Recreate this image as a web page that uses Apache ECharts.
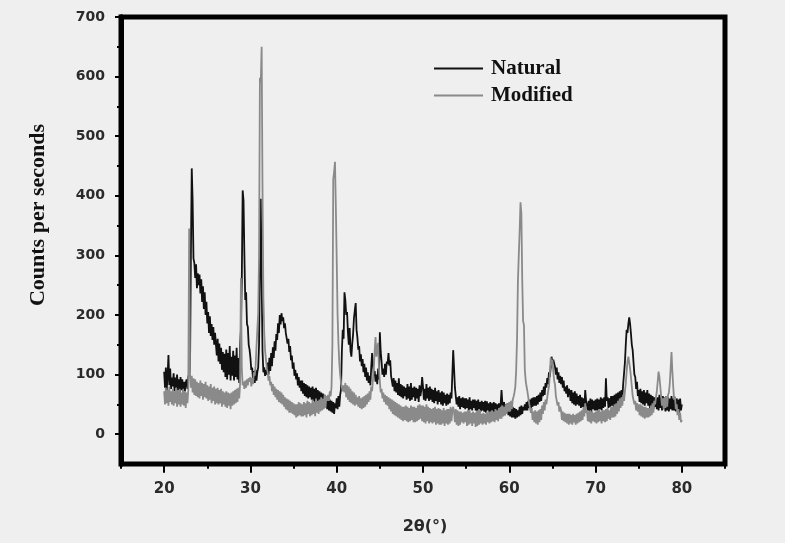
<!DOCTYPE html>
<html>
<head>
<meta charset="utf-8">
<script src="https://cdn.jsdelivr.net/npm/echarts@6/dist/echarts.min.js"></script>
<style>
html,body{margin:0;padding:0;background:#efefef;}
#chart{width:785px;height:543px;}
</style>
</head>
<body>
<div id="chart"></div>
<script>
// 2θ sampling: 20.0 .. 80.0 in 0.1° steps
const thetaStart = 20.0;
const thetaStep = 0.1;

const naturalCounts = [
105,78,112,74,98,133,82,110,76,95,
80,102,72,95,78,100,74,92,70,96,
74,92,70,88,72,86,92,76,96,102,
110,300,446,392,295,287,262,285,245,270,
250,268,236,260,222,248,210,238,200,222,
186,205,170,198,165,185,158,180,150,170,
168,132,160,122,152,118,145,108,138,104,
135,96,142,92,136,100,148,90,130,98,
140,90,132,96,145,92,128,86,150,175,
260,409,392,300,225,238,185,180,150,142,
128,108,112,92,106,86,108,90,104,112,
150,280,395,260,140,104,112,98,108,100,
120,100,128,106,136,114,146,128,156,140,
168,158,186,170,200,184,203,190,196,178,
186,170,172,152,160,138,148,124,132,110,
120,98,108,92,102,82,96,78,90,72,
90,68,86,64,84,62,82,60,80,62,
78,58,80,56,76,54,78,52,74,56,
72,50,70,48,68,46,66,44,64,42,
60,40,58,38,56,36,54,34,52,44,
60,42,64,46,66,75,140,175,160,238,
225,200,205,171,150,178,140,130,152,168,
195,208,220,175,162,142,148,122,134,114,
126,104,118,96,112,90,104,86,98,82,
112,136,118,98,106,88,100,84,110,92,
171,138,122,100,110,96,118,100,122,118,
136,115,124,98,100,80,94,72,90,70,
86,66,94,64,84,62,82,60,80,64,
78,58,84,60,80,56,86,58,78,62,
80,56,78,60,76,54,82,64,74,96,
80,58,76,56,84,60,78,56,80,58,
76,54,74,52,78,56,72,50,74,54,
70,50,72,48,70,52,66,48,68,50,
66,52,70,60,100,141,110,78,64,50,
62,46,64,42,60,46,62,44,60,42,
60,44,58,40,62,42,56,40,58,44,
58,40,56,38,58,42,54,38,56,40,
54,38,56,36,55,40,52,36,54,38,
52,36,54,34,52,38,50,34,52,36,
50,74,52,34,54,32,50,34,52,32,
48,30,50,28,46,28,44,26,42,28,
40,30,46,32,48,34,46,40,50,40,
54,40,56,44,58,42,60,46,62,48,
62,48,64,50,66,54,70,56,74,64,
80,66,86,78,94,84,104,96,112,130,
118,125,128,113,100,112,92,104,86,98,
84,96,78,90,72,80,68,82,62,76,
72,56,74,52,70,50,72,48,68,50,
64,48,66,44,62,46,60,42,74,56,
58,40,56,38,60,36,58,42,56,40,
58,40,60,38,58,42,62,40,60,44,
62,46,94,56,62,44,60,46,64,48,
64,46,66,48,68,50,70,52,72,56,
74,62,84,102,120,150,175,170,185,196,
185,169,150,141,120,100,96,76,88,64,
74,54,76,52,72,50,74,48,70,52,
74,48,68,44,66,46,64,42,62,46,
60,42,62,40,66,44,62,40,64,42,
62,38,64,40,62,38,60,42,64,40,
60,40,62,38,60,42,58,36,60,40,
50
];

const modifiedCounts = [
72,50,78,52,74,48,80,54,72,50,
76,48,72,52,78,46,74,50,76,46,
70,50,76,48,72,44,70,52,75,345,
100,78,98,70,94,66,92,64,88,62,
86,60,90,64,86,58,84,62,88,60,
82,56,80,58,84,52,78,56,80,50,
76,52,78,50,74,52,76,46,72,50,
70,46,72,44,70,48,68,42,70,48,
72,50,74,52,76,54,78,60,84,262,
110,82,88,76,90,78,92,82,94,88,
96,80,94,84,104,98,115,146,175,203,
300,598,590,650,412,230,170,140,125,110,
104,90,98,82,88,72,84,66,80,62,
76,58,74,54,72,52,70,50,66,46,
62,42,60,40,58,36,56,36,54,34,
52,32,50,28,50,30,54,32,52,30,
50,30,54,32,52,28,56,34,54,30,
52,32,58,34,54,30,60,36,56,34,
58,38,62,40,60,42,66,44,64,56,
66,56,72,64,80,150,428,440,457,380,
292,200,153,120,100,86,88,72,82,70,
86,62,82,58,80,54,76,52,72,50,
70,48,66,50,62,46,64,44,60,42,
62,44,64,46,66,50,68,54,72,58,
80,72,92,110,140,163,130,145,153,110,
88,70,76,60,70,54,66,50,64,48,
62,42,60,38,58,34,56,32,54,30,
52,28,50,26,48,24,46,22,46,24,
48,22,46,20,44,22,48,24,46,20,
46,20,44,22,48,24,50,26,48,22,
48,20,46,18,50,22,46,18,44,20,
42,18,44,20,46,16,42,18,44,16,
42,16,40,18,44,14,40,18,42,16,
42,18,46,22,40,46,36,20,42,16,
40,14,38,16,38,20,36,18,38,20,
38,14,40,16,40,18,36,14,38,18,
36,12,38,14,40,16,40,18,34,16,
36,18,34,16,38,20,36,18,38,20,
40,22,38,20,42,24,40,22,44,26,
46,26,48,30,46,32,50,34,52,38,
54,38,56,42,58,63,70,80,108,160,
255,300,340,389,370,260,190,183,108,90,
80,72,69,52,50,36,44,24,38,20,
40,18,38,16,40,20,42,24,48,34,
54,40,58,50,62,72,80,100,128,115,
125,105,90,83,64,66,48,54,38,46,
40,24,38,22,36,20,34,18,34,16,
34,18,32,16,34,20,32,16,34,18,
36,20,38,22,40,24,46,30,52,36,
40,22,38,20,40,18,38,22,36,20,
38,18,40,20,42,22,38,18,40,22,
40,20,42,22,44,26,40,24,46,28,
46,28,50,30,52,34,56,38,60,44,
62,48,66,56,72,85,105,122,130,120,
110,96,80,64,66,50,56,40,52,38,
50,32,50,30,48,28,46,26,46,28,
44,28,44,30,48,32,52,36,56,50,
62,72,88,105,96,80,63,48,60,42,
62,44,64,46,66,70,85,110,138,105,
80,58,63,42,50,32,42,24,36,20,
24
];

const seriesNames = ['Natural', 'Modified'];
const xMajorTicks = [20, 30, 40, 50, 60, 70, 80];
const xMinorTicks = [15, 25, 35, 45, 55, 65, 75, 85];
const yMajorTicks = [0, 100, 200, 300, 400, 500, 600, 700];
const yMinorTicks = [50, 150, 250, 350, 450, 550, 650];
const xTitle = '2θ(°)';
const yTitle = 'Counts per seconds';

function toPairs(arr) {
  return arr.map((v, i) => [Number((thetaStart + i * thetaStep).toFixed(1)), v]);
}

const chart = echarts.init(document.getElementById('chart'), null, {renderer: 'canvas'});

const labelFont = {fontFamily: 'DejaVu Sans', fontWeight: 'bold', color: '#2a2a2a'};
const naturalColor = '#111111';
const modifiedColor = '#8a8a8a';
const frameLine = {show: true, onZero: false, lineStyle: {color: '#000', width: 5}};

function xAxisBase() {
  return {type: 'value', min: 15, max: 85, gridIndex: 0, position: 'bottom', splitLine: {show: false}};
}

const option = {
  backgroundColor: '#efefef',
  animation: false,
  grid: {left: 121, right: 60, top: 17, bottom: 79, show: true, borderColor: '#000', borderWidth: 5, backgroundColor: 'transparent'},
  legend: {
    orient: 'vertical', left: 429, top: 53, padding: 5, itemWidth: 49, itemHeight: 2, itemGap: 6,
    data: [
      {name: seriesNames[0], icon: 'rect', itemStyle: {color: naturalColor}},
      {name: seriesNames[1], icon: 'rect', itemStyle: {color: modifiedColor}}
    ],
    textStyle: {fontFamily: 'Liberation Serif', fontWeight: 'bold', fontSize: 21, color: '#111', padding: [0, 0, 0, 3]}
  },
  xAxis: [
    Object.assign(xAxisBase(), {
      axisLine: {show: false, onZero: true, onZeroAxisIndex: 2},
      axisTick: {show: true, length: 10, lineStyle: {color: '#000', width: 2}, customValues: xMajorTicks},
      axisLabel: {show: false}
    }),
    Object.assign(xAxisBase(), {
      axisLine: {show: false, onZero: true, onZeroAxisIndex: 2},
      axisTick: {show: true, length: 6, lineStyle: {color: '#000', width: 2}, customValues: xMinorTicks},
      axisLabel: {show: false}
    }),
    Object.assign(xAxisBase(), {
      axisLine: {show: false, onZero: false},
      axisTick: {show: false},
      axisLabel: {customValues: xMajorTicks, margin: 18, fontSize: 15, ...labelFont}
    })
  ],
  yAxis: [
    {
      type: 'value', min: -50, max: 700, position: 'left',
      splitLine: {show: false},
      axisLine: frameLine,
      axisTick: {show: true, length: 6, lineStyle: {color: '#000', width: 2}, customValues: yMajorTicks},
      axisLabel: {customValues: yMajorTicks, margin: 16, fontSize: 14, ...labelFont}
    },
    {
      type: 'value', min: -50, max: 700, position: 'left',
      splitLine: {show: false},
      axisLine: frameLine,
      axisTick: {show: true, length: 4, lineStyle: {color: '#000', width: 2}, customValues: yMinorTicks},
      axisLabel: {show: false}
    },
    {
      // helper scale whose zero sits on the bottom frame, used to anchor the x ticks
      type: 'value', min: -2, max: 748, position: 'left',
      splitLine: {show: false},
      axisLine: {show: false, onZero: false},
      axisTick: {show: false},
      axisLabel: {show: false}
    }
  ],
  graphic: [
    {
      type: 'text', x: 38, y: 215, rotation: Math.PI / 2,
      style: {text: yTitle, fontFamily: 'Liberation Serif', fontWeight: 'bold', fontSize: 22, fill: '#111', align: 'center', verticalAlign: 'middle'}
    },
    {
      type: 'text', x: 425, y: 527,
      style: {text: xTitle, fontFamily: 'DejaVu Sans', fontWeight: 'bold', fontSize: 16, fill: '#2a2a2a', align: 'center', verticalAlign: 'middle'}
    }
  ],
  series: [
    {
      name: seriesNames[0], type: 'line', xAxisIndex: 0, yAxisIndex: 0,
      data: toPairs(naturalCounts), symbol: 'none', showSymbol: false,
      lineStyle: {color: naturalColor, width: 1.8}, itemStyle: {color: naturalColor}, z: 2
    },
    {
      name: seriesNames[1], type: 'line', xAxisIndex: 0, yAxisIndex: 0,
      data: toPairs(modifiedCounts), symbol: 'none', showSymbol: false,
      lineStyle: {color: modifiedColor, width: 1.8}, itemStyle: {color: modifiedColor}, z: 3
    }
  ]
};
chart.setOption(option);
</script>
</body>
</html>
